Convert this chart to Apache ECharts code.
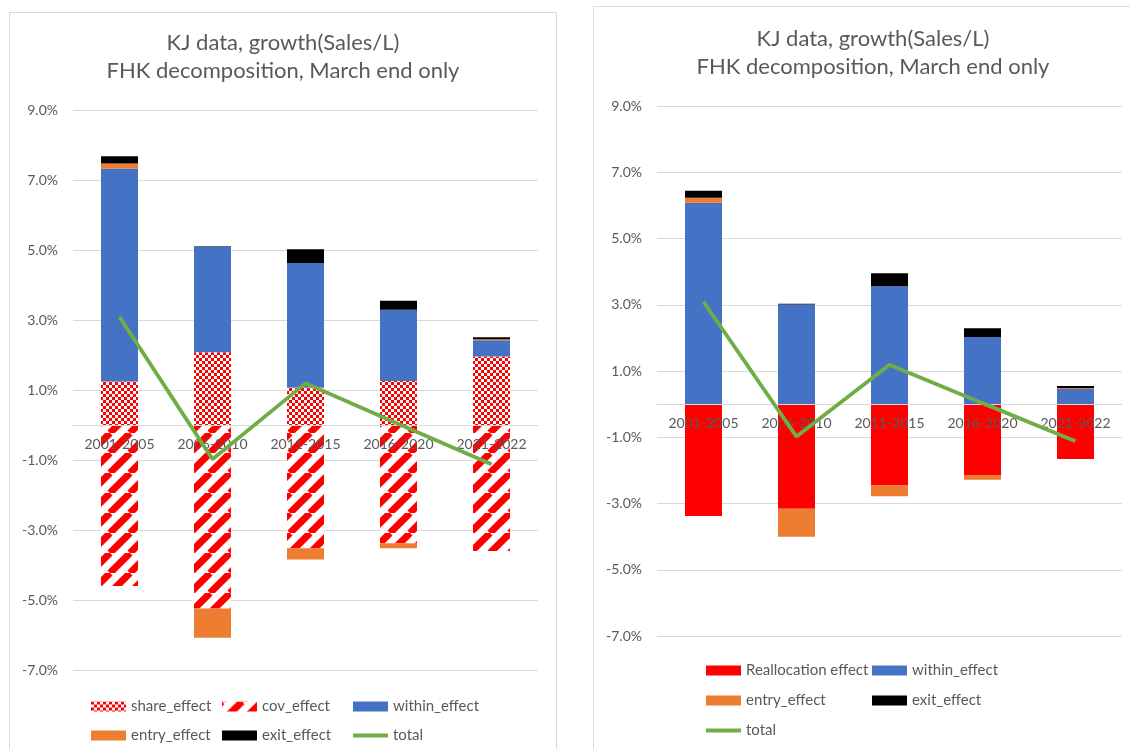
<!DOCTYPE html>
<html>
<head>
<meta charset="utf-8">
<script src="https://cdn.jsdelivr.net/npm/echarts@6/dist/echarts.min.js"></script>
<style>
  html, body { margin: 0; padding: 0; width: 1130px; height: 749px; overflow: hidden; background: #fff; }
  .panel { position: absolute; border: 1px solid #d9d9d9; background: #fff; }
  #left { left: 9px; top: 12px; width: 546px; height: 760px; }
  #right { left: 593px; top: 6px; width: 558px; height: 760px; }
</style>
</head>
<body>
<div id="left" class="panel"></div>
<div id="right" class="panel"></div>
<script>
// values in percent
var categories = ['2001-2005', '2006-2010', '2011-2015', '2016-2020', '2021-2022'];
var shareEffect = [1.24, 2.08, 1.07, 1.26, 1.96];
var covEffect = [-4.60, -5.24, -3.52, -3.38, -3.60];
var reallocEffect = [-3.38, -3.16, -2.46, -2.14, -1.66];
var withinEffect = [6.08, 3.01, 3.56, 2.03, 0.46];
var entryEffect = [0.15, -0.84, -0.32, -0.14, 0.03];
var exitEffect = [0.21, 0.02, 0.39, 0.26, 0.06];
var totalGrowth = [3.09, -0.98, 1.19, 0.03, -1.12];

var Y_MIN = -7, Y_MAX = 9, Y_STEP = 2;

var FONT = 'Lato';
var GREY = '#595959';

// excel-like fill patterns
function checker() {
  var c = document.createElement('canvas');
  c.width = 6; c.height = 6;
  var g = c.getContext('2d');
  g.fillStyle = '#ffffff'; g.fillRect(0, 0, 6, 6);
  g.fillStyle = '#ff0000';
  g.fillRect(0, 0, 3, 3);
  g.fillRect(3, 3, 3, 3);
  return c;
}
function stripes() {
  var s = 20;
  var c = document.createElement('canvas');
  c.width = s; c.height = s;
  var g = c.getContext('2d');
  g.fillStyle = '#ffffff'; g.fillRect(0, 0, s, s);
  g.strokeStyle = '#ff0000'; g.lineWidth = 7;
  for (var k = -1; k <= 1; k++) {
    g.beginPath();
    g.moveTo(k * s, s);
    g.lineTo(k * s + s, 0);
    g.stroke();
  }
  return c;
}

function title(top) {
  return {
    text: 'KJ data, growth(Sales/L)\nFHK decomposition, March end only',
    left: 'center', top: top,
    textStyle: { color: GREY, fontSize: 22, fontWeight: 'normal', fontFamily: FONT, lineHeight: 28 }
  };
}

// labels sit just under the zero line, like excel does
function xAxis(gridHeight) {
  var belowZero = gridHeight * (0 - Y_MIN) / (Y_MAX - Y_MIN);
  return {
    type: 'category', data: categories, z: 10,
    axisLine: { onZero: true, lineStyle: { color: '#d9d9d9', width: 1 } },
    axisTick: { show: false },
    axisLabel: { color: GREY, fontSize: 14, fontFamily: FONT, margin: 12 - belowZero }
  };
}

function yAxis() {
  return {
    type: 'value', min: Y_MIN, max: Y_MAX, interval: Y_STEP,
    axisLine: { show: false }, axisTick: { show: false },
    splitLine: { lineStyle: { color: '#d9d9d9', width: 1 } },
    axisLabel: {
      color: GREY, fontSize: 14, fontFamily: FONT, margin: 15,
      formatter: function (v) { return v.toFixed(1) + '%'; }
    }
  };
}

function legendItem(name, x, y) {
  var isLine = name === 'total';
  return {
    data: [name], left: x, top: y, padding: 0,
    itemWidth: 35, itemHeight: isLine ? 4 : 10, selectedMode: false,
    icon: 'rect',
    textStyle: { color: GREY, fontSize: 15, fontFamily: FONT }
  };
}

function bar(name, data, color) {
  return {
    name: name, type: 'bar', stack: 'fhk', data: data,
    barWidth: 37, itemStyle: { color: color }
  };
}

function totalLine() {
  return {
    name: 'total', type: 'line', data: totalGrowth, z: 12,
    symbol: 'none', lineStyle: { color: '#70ad47', width: 3.8 },
    itemStyle: { color: '#70ad47' }
  };
}

var leftChart = echarts.init(document.getElementById('left'));
leftChart.setOption({
  animation: false,
  title: title(11),
  grid: { left: 63, top: 97, width: 465, height: 560 },
  xAxis: xAxis(560),
  yAxis: yAxis(),
  legend: [
    legendItem('share_effect', 81, 686),
    legendItem('cov_effect', 212, 686),
    legendItem('within_effect', 343, 686),
    legendItem('entry_effect', 81, 715),
    legendItem('exit_effect', 212, 715),
    legendItem('total', 343, 715)
  ],
  series: [
    bar('share_effect', shareEffect, { image: checker(), repeat: 'repeat' }),
    bar('cov_effect', covEffect, { image: stripes(), repeat: 'repeat' }),
    bar('within_effect', withinEffect, '#4472c4'),
    bar('entry_effect', entryEffect, '#ed7d31'),
    bar('exit_effect', exitEffect, '#000000'),
    totalLine()
  ]
});

var rightChart = echarts.init(document.getElementById('right'));
rightChart.setOption({
  animation: false,
  title: title(13),
  grid: { left: 63, top: 99, width: 465, height: 530 },
  xAxis: xAxis(530),
  yAxis: yAxis(),
  legend: [
    legendItem('Reallocation effect', 112, 656),
    legendItem('within_effect', 278, 656),
    legendItem('entry_effect', 112, 686),
    legendItem('exit_effect', 278, 686),
    legendItem('total', 112, 716)
  ],
  series: [
    bar('Reallocation effect', reallocEffect, '#ff0000'),
    bar('within_effect', withinEffect, '#4472c4'),
    bar('entry_effect', entryEffect, '#ed7d31'),
    bar('exit_effect', exitEffect, '#000000'),
    totalLine()
  ]
});
</script>
</body>
</html>
